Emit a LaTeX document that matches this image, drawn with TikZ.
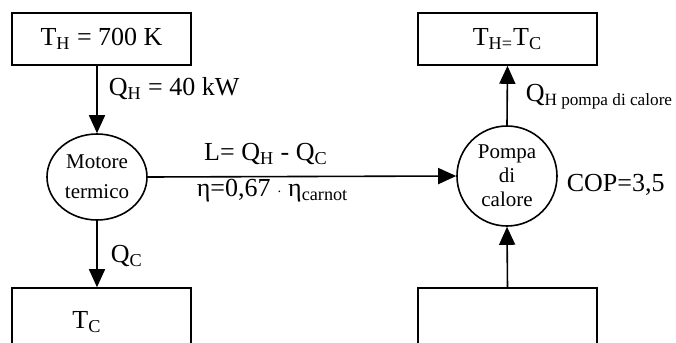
\documentclass[tikz,border=0pt]{standalone}
\usepackage{fontspec}
\setmainfont{Liberation Serif}
\usetikzlibrary{arrows.meta,shapes.geometric}

\begin{document}
\begin{tikzpicture}[x=0.5pt, y=-0.5pt, line width=0.8pt,
  reservoir/.style={draw, rectangle, minimum width=89.5pt, minimum height=26pt,
    inner sep=0pt, font=\fontsize{13}{15}\selectfont},
  machine/.style={draw, ellipse, inner sep=0pt, align=center,
    font=\fontsize{10.5}{12}\selectfont},
  flow/.style={-{Triangle[length=9pt, width=8pt]}},
  lbl/.style={inner sep=0pt, font=\fontsize{13}{15}\selectfont}]

  \useasboundingbox (0, 0) rectangle (676, 343);
  \clip (0, 0) rectangle (676, 343);

  % -- Heat engine side --
  \node[reservoir] (hot) at (101.5, 39) {T\textsubscript{H} = 700 K};
  \node[machine, minimum width=50pt, minimum height=43pt] (motor) at (97, 177)
    {Motore\\[3pt]termico};
  \node[reservoir, minimum height=40pt] (cold) at (101.5, 328) {};
  \node[lbl] (tc) at (87, 322) {T\textsubscript{C}};

  \draw[flow] (hot.south -| motor) -- (motor.north);
  \draw[flow] (motor.south) -- (cold.north -| motor);
  \node[lbl, anchor=west] (qh) at (108, 89) {Q\textsubscript{H} = 40 kW};
  \node[lbl, anchor=west] (qc) at (110, 256) {Q\textsubscript{C}};

  % -- Heat pump side --
  \node[machine, circle, minimum size=50pt] (pump) at (507, 176)
    {Pompa\\di\\calore};
  \node[reservoir] (warm) at (507.5, 39) {T\textsubscript{H=}T\textsubscript{C}};
  \node[reservoir, minimum height=40pt] (source) at (507.5, 328) {};

  \draw[flow] (pump.north) -- (warm.south);
  \draw[flow] (source.north) -- (pump.south);
  \node[lbl, anchor=west] (qhp) at (525, 97)
    {Q{\fontsize{8.6}{10}\selectfont\raisebox{-2.2pt}{H pompa di calore}}};
  \node[lbl, anchor=west] (cop) at (566, 185) {COP=3,5};

  % -- Work transfer --
  \draw[flow] (motor.east) -- (pump.west);
  \node[lbl] (work) at (266, 154) {L= Q\textsubscript{H} - Q\textsubscript{C}};
  \node[lbl, anchor=west] (eta) at (196, 191)
    {η=0,67 {\fontsize{7}{8}\selectfont·} η\textsubscript{carnot}};

\end{tikzpicture}
\end{document}
